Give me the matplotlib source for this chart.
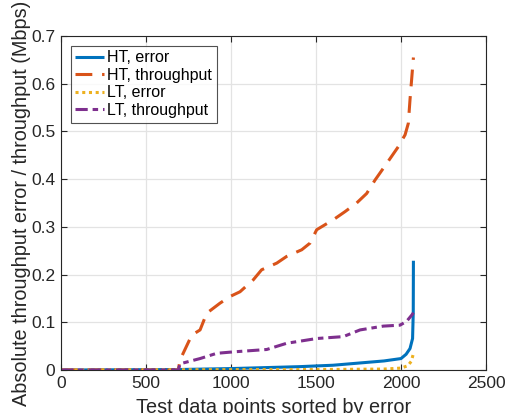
import matplotlib
matplotlib.use("Agg")
import matplotlib.pyplot as plt
from matplotlib.ticker import FuncFormatter

plt.rcParams['font.family'] = ['Liberation Sans', 'DejaVu Sans']

# HT throughput
ht_tp_x = [0, 690, 700, 769, 818, 857, 935, 994, 1053, 1131, 1180, 1269, 1327, 1416, 1465, 1504,
           1602, 1671, 1739, 1798, 1847, 1916, 1984, 2024, 2043, 2053, 2065, 2073]
ht_tp_y = [0, 0, 0.021, 0.073, 0.084, 0.119, 0.14, 0.154, 0.164, 0.189, 0.21, 0.224, 0.238, 0.252,
           0.266, 0.294, 0.315, 0.332, 0.35, 0.37, 0.398, 0.433, 0.468, 0.493, 0.517, 0.567, 0.62, 0.655]
# HT error
ht_err_x = [0, 690, 1000, 1200, 1400, 1600, 1800, 1900, 2000, 2030, 2053, 2068, 2072, 2073]
ht_err_y = [0, 0.001, 0.003, 0.005, 0.007, 0.010, 0.016, 0.019, 0.024, 0.033, 0.045, 0.066, 0.12, 0.229]
# LT error
lt_err_x = [0, 700, 1500, 1900, 2000, 2040, 2060, 2068, 2073]
lt_err_y = [0, 0.0005, 0.001, 0.002, 0.004, 0.009, 0.018, 0.028, 0.035]
# LT throughput
lt_tp_x = [0, 690, 700, 818, 916, 1014, 1210, 1327, 1504, 1661, 1759, 1896, 1994, 2033, 2063, 2073]
lt_tp_y = [0, 0, 0.013, 0.024, 0.035, 0.038, 0.043, 0.056, 0.066, 0.070, 0.084, 0.092, 0.094,
           0.102, 0.115, 0.12]

fig = plt.figure(figsize=(5.05, 4.13), dpi=100)
ax = fig.add_axes([0.1208, 0.1041, 0.8416, 0.8087])

lw = 2.2
ax.plot(ht_err_x, ht_err_y, color='#0072BD', lw=lw, label='HT, error', solid_capstyle='butt')
ax.plot(ht_tp_x, ht_tp_y, color='#D95319', lw=lw, label='HT, throughput', dashes=(5.5, 3.2))
ax.plot(lt_err_x, lt_err_y, color='#EDB120', lw=lw, label='LT, error', dashes=(1, 1.2))
ax.plot(lt_tp_x, lt_tp_y, color='#7E2F8E', lw=lw, label='LT, throughput', dashes=(4, 1.6, 1.8, 1.6))

ax.set_xlim(0, 2500)
ax.set_ylim(0, 0.7)
ax.set_xticks([0, 500, 1000, 1500, 2000, 2500])
ax.set_yticks([0, 0.1, 0.2, 0.3, 0.4, 0.5, 0.6, 0.7])
ax.yaxis.set_major_formatter(FuncFormatter(lambda v, p: '0' if abs(v) < 1e-9 else f'{v:.1f}'))
ax.grid(True, color='#e3e3e3', lw=0.9)
ax.set_axisbelow(True)
ax.tick_params(direction='in', top=True, right=True, length=4, width=0.8,
               labelsize=12.5, colors='#262626', pad=4)
for s in ax.spines.values():
    s.set_color('#262626')
    s.set_linewidth(0.8)

ax.set_xlabel('Test data points sorted by error', fontsize=14.3, color='#262626', labelpad=5)
ax.set_ylabel('Absolute throughput error / throughput (Mbps)', fontsize=14.3, color='#262626', labelpad=0)

leg = ax.legend(loc='upper left', fontsize=11.5, frameon=True, fancybox=False,
                edgecolor='#262626', handlelength=1.8, handletextpad=0.2,
                borderaxespad=0.6, borderpad=0.3, labelspacing=0.16)
leg.get_frame().set_linewidth(0.8)

fig.savefig('out.png', dpi=100)
